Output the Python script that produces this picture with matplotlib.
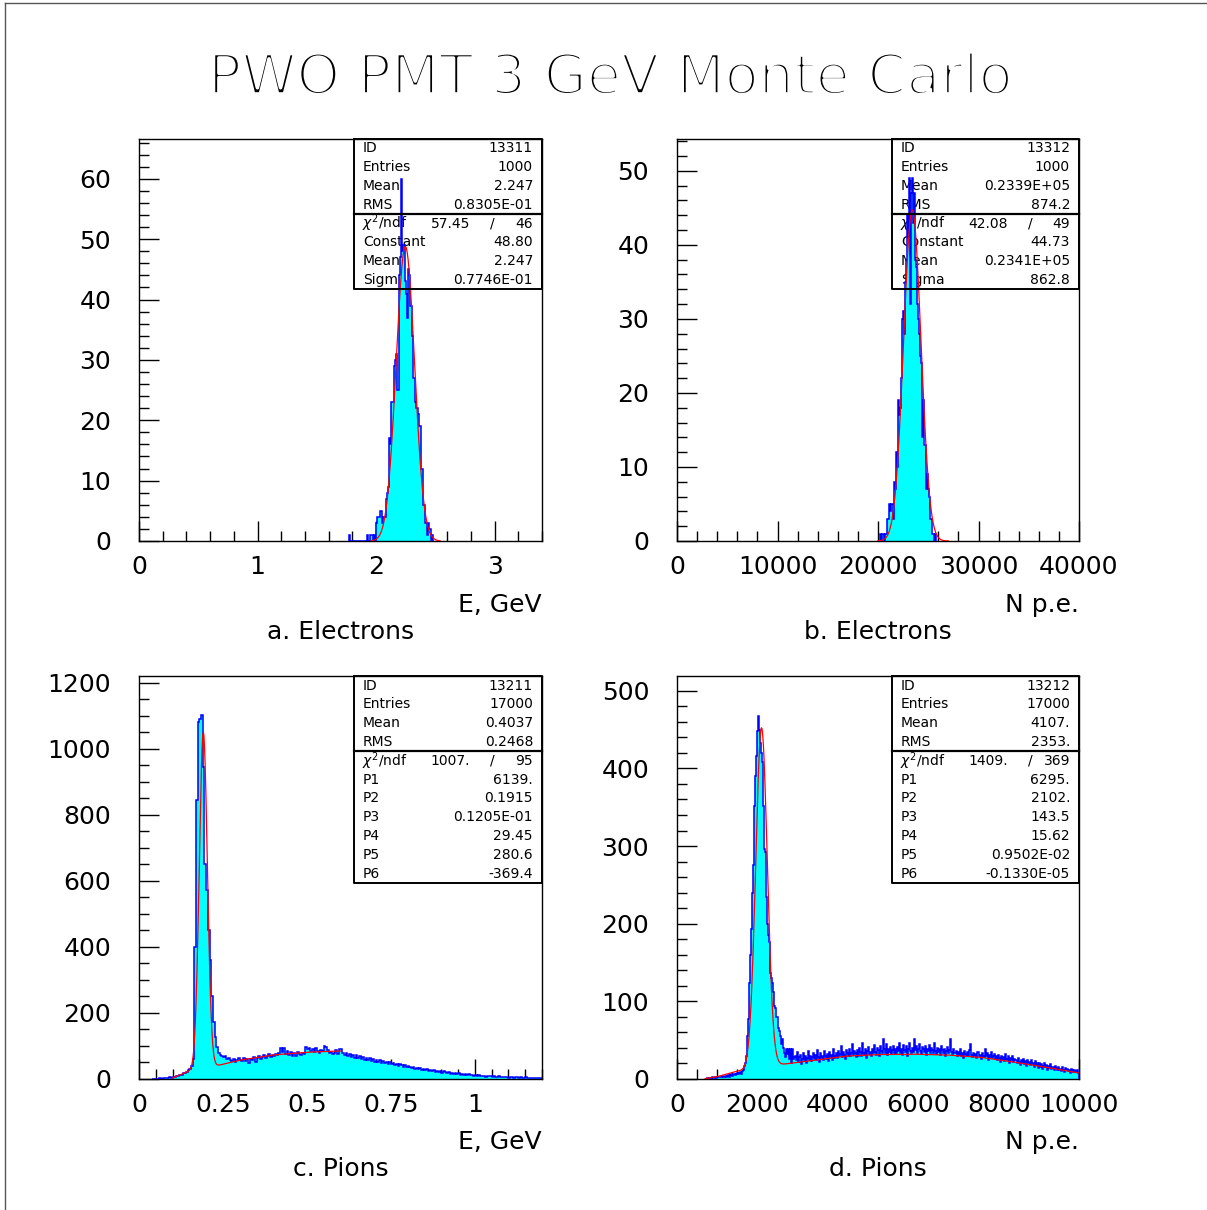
import numpy as np
import matplotlib
matplotlib.use("Agg")
import matplotlib.pyplot as plt
import matplotlib.patheffects as pe
from matplotlib.ticker import MultipleLocator, FuncFormatter
from matplotlib.lines import Line2D

W, H = 1207, 1210

# ---- a. Electrons: energy, bins of 0.01 GeV starting at 1.77
a_start, a_bw = 1.77, 0.01
a_counts = [1, 0, 0, 0, 0, 0, 0, 0, 0, 0, 0, 0, 0, 0, 0, 1, 0, 0, 1, 1, 0, 1, 0,
            3, 4, 4, 5, 5, 3, 4, 4, 7, 8, 9, 17, 16, 23, 23, 29, 30, 31, 25,
            44, 47, 60, 48, 49, 43, 41, 37, 45, 44, 39, 34, 27, 27, 23, 22,
            21, 19, 19, 12, 12, 6, 3, 3, 1, 3, 2, 0, 1]
a_stats = [("ID", "13311"), ("Entries", "1000"), ("Mean", "2.247"), ("RMS", "0.8305E-01")]
a_chi2 = ("57.45", "46")
a_fit = [("Constant", "48.80"), ("Mean", "2.247"), ("Sigma", "0.7746E-01")]
a_gaus = (48.80, 2.247, 0.07746)

# ---- b. Electrons: photoelectrons, bins of 100 starting at 20200
b_start, b_bw = 20200, 100
b_counts = [1, 0, 1, 1, 0, 1, 1, 3, 3, 5, 4, 5, 5, 3, 8, 7, 12, 10, 19, 17, 18,
            22, 30, 31, 28, 35, 38, 44, 41, 49, 32, 47, 49, 43, 47, 38, 37, 32,
            30, 28, 25, 24, 14, 19, 13, 13, 7, 9, 7, 6, 3, 3, 1, 1, 0, 1]
b_stats = [("ID", "13312"), ("Entries", "1000"), ("Mean", "0.2339E+05"), ("RMS", "874.2")]
b_chi2 = ("42.08", "49")
b_fit = [("Constant", "44.73"), ("Mean", "0.2341E+05"), ("Sigma", "862.8")]
b_gaus = (44.73, 23410.0, 862.8)

# ---- c. Pions: energy, bins of 0.005 GeV starting at 0.04
c_start, c_bw = 0.04, 0.005
c_counts = [1, 0, 1, 1, 2, 1, 2, 3, 2, 4, 5, 4, 7, 6, 9, 10, 12, 13, 17, 18,
            22, 26, 31, 40, 60, 400, 845, 1083, 1090, 1103, 946, 650, 573, 451, 360,
            250, 174, 128, 98, 80, 72, 70, 66, 70, 62,
            63, 58, 55, 61, 52, 57, 63, 58, 54, 64,
            56, 61, 47, 62, 58, 66, 51, 64, 70, 62,
            68, 73, 64, 70, 75, 66, 73, 69, 77, 72,
            78, 95, 82, 93, 77, 86, 74, 81, 71, 78,
            70, 83, 76, 73, 80, 77, 96, 92, 95, 84,
            90, 81, 93, 86, 79, 88, 84, 99, 97, 88,
            78, 83, 75, 80, 87, 77, 92, 90, 80, 74,
            79, 69, 76, 68, 74, 65, 72, 64, 70, 61,
            67, 59, 65, 58, 63, 55, 61, 53, 59, 51,
            57, 49, 55, 47, 53, 44, 51, 45, 48, 42,
            46, 39, 44, 41, 37, 42, 36, 39, 37, 33,
            36, 31, 34, 29, 33, 28, 31, 26, 29, 25,
            27, 23, 26, 21, 25, 22, 24, 19, 23, 20,
            17, 21, 16, 19, 15, 18, 14, 17, 13, 16,
            12, 15, 12, 14, 11, 13, 10, 12, 9, 11,
            8, 10, 9, 7, 10, 8, 9, 6, 8, 7,
            6, 8, 5, 7, 6, 5, 7, 4, 6, 5,
            4, 6, 5, 3, 5, 4, 3, 5, 4, 3,
            4, 3, 2, 4, 3, 2, 3]
c_stats = [("ID", "13211"), ("Entries", "17000"), ("Mean", "0.4037"), ("RMS", "0.2468")]
c_chi2 = ("1007.", "95")
c_fit = [("P1", "6139."), ("P2", "0.1915"), ("P3", "0.1205E-01"),
         ("P4", "29.45"), ("P5", "280.6"), ("P6", "-369.4")]
c_peak = (6139.0, 0.1915, 0.01205)
c_bg_x = [0.10, 0.15, 0.20, 0.231, 0.30, 0.40, 0.50, 0.60]
c_bg_y = [3, 24, 36, 40, 57, 73, 81, 85]

# ---- d. Pions: photoelectrons, bins of 25 starting at 750
d_start, d_bw = 750, 25
d_counts = [1, 0, 1, 1, 0, 2, 1, 1, 2, 1,
            2, 3, 2, 2, 3, 4, 3, 2, 4, 3,
            4, 5, 3, 5, 6, 4, 6, 7, 5, 7,
            8, 6, 8, 9, 7, 10,
            12, 17, 20, 30, 55, 77, 124, 160, 193, 240, 275, 352, 390, 416, 448,
            468, 450, 433, 420, 408, 352, 296, 292, 234, 200, 185, 176, 137, 130,
            124, 112, 94, 92, 80, 66, 62, 56, 45, 51, 40, 34, 28, 39, 32, 39, 26,
            39, 21, 39, 26, 28,
            30, 24, 35, 22, 28, 31, 19, 26, 33, 25, 29, 21, 27, 36, 24, 30, 23, 28, 34, 26,
            31, 25, 37, 28, 22, 33, 27, 30, 24, 36, 29, 26, 32, 23, 35, 28, 31, 25, 38, 27,
            30, 34, 27, 36, 29, 32, 43, 28, 35, 31, 26, 37, 33, 29, 38, 30, 34, 45, 31, 36,
            33, 28, 37, 30, 40, 35, 29, 47, 34, 31, 38, 27, 36, 41, 32, 35, 30, 39, 33, 44,
            35, 31, 40, 37, 29, 42, 36, 33, 51, 38, 34, 45, 31, 39, 35, 41, 32, 37, 43, 34,
            38, 33, 41, 36, 47, 34, 39, 31, 44, 37, 35, 42, 30, 38, 46, 36, 33, 40, 35, 51,
            37, 42, 34, 39, 45, 36, 32, 41, 38, 35, 43, 31, 39, 36, 44, 34, 40, 37, 33, 47,
            36, 32, 40, 35, 38, 31, 42, 37, 34, 39, 30, 36, 41, 33, 37, 51, 35, 32, 38, 34,
            33, 36, 29, 35, 31, 38, 30, 34, 27, 36, 32, 29, 35, 30, 37, 45, 31, 28, 34, 30,
            32, 27, 35, 29, 31, 26, 34, 30, 28, 38, 29, 33, 25, 31, 28, 35, 27, 30, 32, 26,
            29, 24, 31, 27, 22, 30, 25, 28, 23, 32, 26, 24, 29, 21, 27, 25, 30, 22, 26, 24,
            25, 20, 27, 22, 18, 24, 21, 26, 19, 23, 17, 25, 20, 22, 18, 24, 19, 21, 16, 23,
            18, 20, 14, 21, 16, 19, 13, 17, 20, 15, 18, 12, 17, 14, 19, 13, 16, 15, 11, 17,
            14, 11, 16, 12, 13, 10, 15, 12, 9, 14, 11, 13, 10, 12, 8, 13, 11, 9, 12, 10,
            9, 11, 8]
d_stats = [("ID", "13212"), ("Entries", "17000"), ("Mean", "4107."), ("RMS", "2353.")]
d_chi2 = ("1409.", "369")
d_fit = [("P1", "6295."), ("P2", "2102."), ("P3", "143.5"),
         ("P4", "15.62"), ("P5", "0.9502E-02"), ("P6", "-0.1330E-05")]
d_peak = (6295.0, 2102.0, 143.5)
d_bg_x = [700, 1000, 1500, 2000, 2570, 3310, 4220, 5000, 5880, 6700, 7540, 8300, 9200, 10000]
d_bg_y = [0.5, 3, 10, 14, 18.5, 23.5, 29.5, 31.5, 32, 31, 28, 22.5, 15, 7.7]

FONT = "DejaVu Sans"
CYAN, BLUE, RED = "#00ffff", "#0000ff", "#ff0000"


def gaus(x, const, mean, sigma):
    return const * np.exp(-0.5 * ((x - mean) / sigma) ** 2)


def make_axes(fig, left, top, right, bottom):
    return fig.add_axes([left / W, 1 - bottom / H, (right - left) / W, (bottom - top) / H])


def style_axes(ax, xlim, ylim, xmaj, xmin_, ymaj, ymin_):
    ax.set_xlim(*xlim)
    ax.set_ylim(*ylim)
    ax.xaxis.set_major_locator(MultipleLocator(xmaj))
    ax.xaxis.set_minor_locator(MultipleLocator(xmin_))
    ax.yaxis.set_major_locator(MultipleLocator(ymaj))
    ax.yaxis.set_minor_locator(MultipleLocator(ymin_))
    fmt = FuncFormatter(lambda v, p: "%g" % round(v, 6))
    ax.xaxis.set_major_formatter(fmt)
    ax.yaxis.set_major_formatter(fmt)
    ax.tick_params(which="both", direction="in", top=False, right=False,
                   width=1.0, color="black")
    ax.tick_params(which="major", length=14.5)
    ax.tick_params(which="minor", length=7.2)
    ax.tick_params(axis="x", which="major", labelsize=18, pad=10)
    ax.tick_params(axis="y", which="major", labelsize=18, pad=20)
    for s in ax.spines.values():
        s.set_linewidth(1.0)


def draw_hist(ax, start, bw, counts):
    counts = np.array(counts, dtype=float)
    edges = start + bw * np.arange(len(counts) + 1)
    ax.stairs(counts, edges, fill=True, color=CYAN, zorder=2)
    ax.stairs(counts, edges, color=BLUE, lw=1.1, zorder=3)


def stat_box(ax, box, stats, chi2, fit):
    # box = (x0, y0, x1, y1) in figure pixels, relative to the axes frame
    l, t, r, b = ax_px[ax]
    x0, y0, x1, y1 = box
    fx = lambda x: (x - l) / (r - l)
    fy = lambda y: (b - y) / (b - t)
    step = 18.8
    ydiv = y0 + step * 4
    ax.plot([fx(x0), fx(x1), fx(x1), fx(x0), fx(x0)],
            [fy(y0), fy(y0), fy(y1), fy(y1), fy(y0)],
            transform=ax.transAxes, color="black", lw=1.4, zorder=5, clip_on=False)
    ax.plot([fx(x0), fx(x1)], [fy(ydiv), fy(ydiv)], transform=ax.transAxes,
            color="black", lw=1.6, zorder=5, clip_on=False)
    rows = list(stats) + [None] + list(fit)
    for i, row in enumerate(rows):
        yc = fy(y0 + 9.5 + step * i)
        if row is None:
            ax.text(fx(x0 + 8), yc, r"$\chi^2$/ndf", transform=ax.transAxes, fontsize=10,
                    ha="left", va="center", zorder=1, family=FONT)
            ax.text(fx(x0 + 116), yc, chi2[0], transform=ax.transAxes, fontsize=10,
                    ha="right", va="center", zorder=1, family=FONT)
            ax.text(fx(x0 + 138), yc, "/", transform=ax.transAxes, fontsize=10,
                    ha="center", va="center", zorder=1, family=FONT)
            ax.text(fx(x1 - 9), yc, chi2[1], transform=ax.transAxes, fontsize=10,
                    ha="right", va="center", zorder=1, family=FONT)
            continue
        ax.text(fx(x0 + 9), yc, row[0], transform=ax.transAxes, fontsize=10,
                ha="left", va="center", zorder=1, family=FONT)
        ax.text(fx(x1 - 9), yc, row[1], transform=ax.transAxes, fontsize=10,
                ha="right", va="center", zorder=1, family=FONT)


plt.rcParams["font.family"] = FONT
fig = plt.figure(figsize=(W / 100, H / 100), dpi=100)
fig.patch.set_facecolor("white")

ax_px = {}
axa = make_axes(fig, 139, 139, 542, 541)
axb = make_axes(fig, 677, 139, 1079, 541)
axc = make_axes(fig, 139, 676, 542, 1079)
axd = make_axes(fig, 677, 676, 1079, 1079)
ax_px[axa] = (139, 139, 542, 541)
ax_px[axb] = (677, 139, 1079, 541)
ax_px[axc] = (139, 676, 542, 1079)
ax_px[axd] = (677, 676, 1079, 1079)

# a
style_axes(axa, (0, 3.4), (0, 66.6), 1, 0.2, 10, 2)
draw_hist(axa, a_start, a_bw, a_counts)
xa = np.linspace(1.96, 2.54, 300)
axa.plot(xa, gaus(xa, *a_gaus), color=RED, lw=0.9, zorder=4)
stat_box(axa, (354, 139, 542, 289), a_stats, a_chi2, a_fit)

# b
style_axes(axb, (0, 40000), (0, 54.3), 10000, 2000, 10, 2)
draw_hist(axb, b_start, b_bw, b_counts)
xb = np.linspace(20000, 27000, 300)
axb.plot(xb, gaus(xb, *b_gaus), color=RED, lw=0.9, zorder=4)
stat_box(axb, (892, 139, 1079, 289), b_stats, b_chi2, b_fit)

# c
style_axes(axc, (0, 1.2), (0, 1221), 0.25, 0.05, 200, 50)
draw_hist(axc, c_start, c_bw, c_counts)
xc = np.linspace(0.10, 0.60, 600)
amp_c = c_peak[0] * c_bw / (np.sqrt(2 * np.pi) * c_peak[2])
axc.plot(xc, gaus(xc, amp_c, c_peak[1], c_peak[2]) + np.interp(xc, c_bg_x, c_bg_y),
         color=RED, lw=0.9, zorder=4)
stat_box(axc, (354, 676, 542, 883), c_stats, c_chi2, c_fit)

# d
style_axes(axd, (0, 10000), (0, 519), 2000, 500, 100, 20)
draw_hist(axd, d_start, d_bw, d_counts)
xd = np.linspace(700, 10000, 1200)
amp_d = d_peak[0] * d_bw / (np.sqrt(2 * np.pi) * d_peak[2])
axd.plot(xd, gaus(xd, amp_d, d_peak[1], d_peak[2]) + np.interp(xd, d_bg_x, d_bg_y),
         color=RED, lw=0.9, zorder=4)
stat_box(axd, (892, 676, 1079, 883), d_stats, d_chi2, d_fit)


# labels (figure pixel positions)
def ftext(x, y, s, size, ha="center", thin=False):
    t = fig.text(x / W, 1 - y / H, s, fontsize=size, ha=ha, va="center", family=FONT)
    if thin:
        t.set_path_effects([pe.Normal(), pe.Stroke(linewidth=2.6, foreground="white")])
    return t


ftext(610, 79, "PWO PMT 3 GeV Monte Carlo", 40, thin=True)
ftext(542, 605, "E, GeV", 18, ha="right")
ftext(1079, 605, "N p.e.", 18, ha="right")
ftext(341, 632, "a. Electrons", 18)
ftext(878, 632, "b. Electrons", 18)
ftext(542, 1142, "E, GeV", 18, ha="right")
ftext(1079, 1142, "N p.e.", 18, ha="right")
ftext(341, 1169, "c. Pions", 18)
ftext(878, 1169, "d. Pions", 18)

# page frame
fig.add_artist(Line2D([5 / W, 1], [1 - 3 / H, 1 - 3 / H], transform=fig.transFigure,
                      color="#555555", lw=1.0))
fig.add_artist(Line2D([5 / W, 5 / W], [0, 1 - 3 / H], transform=fig.transFigure,
                      color="#555555", lw=1.0))

fig.savefig("out.png", dpi=100)
